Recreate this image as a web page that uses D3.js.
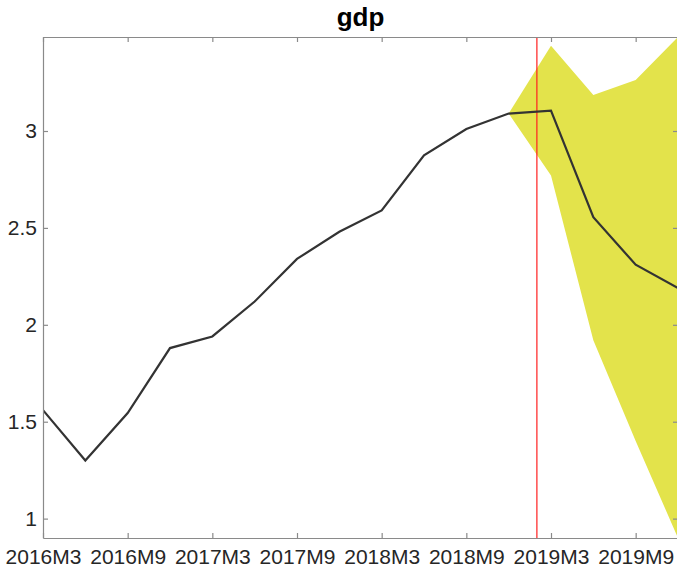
<!DOCTYPE html>
<html><head><meta charset="utf-8">
<script src="https://cdn.jsdelivr.net/npm/d3@7"></script>
<style>
html,body{margin:0;padding:0;background:#fff;overflow:hidden;}
text{font-family:"Liberation Sans",Arial,Helvetica,sans-serif;}
</style></head>
<body><svg id="c" width="677" height="569"></svg>
<script>
// months since 2016M3 for each quarterly observation
const periods = ["2016M3","2016M6","2016M9","2016M12","2017M3","2017M6","2017M9","2017M12","2018M3","2018M6","2018M9","2018M12","2019M3","2019M6","2019M9","2019M12"];
const gdp = [1.56,1.30,1.545,1.88,1.94,2.12,2.34,2.48,2.59,2.875,3.01,3.09,3.105,2.555,2.31,2.19];
const bandPeriods = ["2018M12","2019M3","2019M6","2019M9","2019M12"];
const bandUpper = [3.09,3.44,3.186,3.263,3.485];
const bandLower = [3.09,2.77,1.92,1.40,0.90];
const xTickLabels = ["2016M3","2016M9","2017M3","2017M9","2018M3","2018M9","2019M3","2019M9"];
const yTicks = [1,1.5,2,2.5,3];
const forecastStart = "2019M2";
const title = "gdp";

function toMonth(p){const m=p.match(/(\d{4})M(\d+)/);return (+m[1]-2016)*12+(+m[2]-3);}

const svg = d3.select("#c");
const L=43, R=678, T=37, B=538;
const x = d3.scaleLinear().domain([0,45]).range([L,R]);
const yMin = d3.min([...gdp,...bandLower]), yMax = d3.max([...gdp,...bandUpper]);
const y = d3.scaleLinear().domain([yMin,yMax]).range([B,T]);

svg.append("defs").append("clipPath").attr("id","clip").append("rect")
  .attr("x",L).attr("y",T).attr("width",R-L).attr("height",B-T);
const g = svg.append("g").attr("clip-path","url(#clip)");

const band = bandPeriods.map((p,i)=>({m:toMonth(p),lo:bandLower[i],hi:bandUpper[i]}));
g.append("path").datum(band)
  .attr("d",d3.area().x(d=>x(d.m)).y0(d=>y(d.lo)).y1(d=>y(d.hi)))
  .attr("fill","#e3e34b").attr("stroke","none");

g.append("line").attr("x1",x(toMonth(forecastStart))).attr("x2",x(toMonth(forecastStart)))
  .attr("y1",T).attr("y2",B).attr("stroke","#ff2020").attr("stroke-width",1.2);

const pts = periods.map((p,i)=>({m:toMonth(p),v:gdp[i]}));
g.append("path").datum(pts)
  .attr("d",d3.line().x(d=>x(d.m)).y(d=>y(d.v)))
  .attr("fill","none").attr("stroke","#333333").attr("stroke-width",2.2).attr("stroke-linejoin","miter");

// axes box
const axColor="#8a8a8a";
const tickMonths = xTickLabels.map(toMonth);
const axB = d3.axisBottom(x).tickValues(tickMonths).tickFormat((d,i)=>xTickLabels[i]).tickSizeInner(-5).tickSizeOuter(0).tickPadding(11);
const axT = d3.axisTop(x).tickValues(tickMonths).tickFormat("").tickSizeInner(-5).tickSizeOuter(0);
const axL = d3.axisLeft(y).tickValues(yTicks).tickFormat(d3.format("")).tickSizeInner(-5).tickSizeOuter(0).tickPadding(6);
const axR = d3.axisRight(y).tickValues(yTicks).tickFormat("").tickSizeInner(-5).tickSizeOuter(0);

function style(sel){
  sel.select(".domain").attr("stroke",axColor).attr("stroke-width",1.2);
  sel.selectAll(".tick line").attr("stroke",axColor).attr("stroke-width",1.2);
  sel.selectAll(".tick text").attr("fill","#262626").style("font-size","21px");
}
svg.append("g").attr("transform",`translate(0,${B})`).call(axB).call(style);
svg.append("g").attr("transform",`translate(0,${T})`).call(axT).call(style);
svg.append("g").attr("transform",`translate(${L},0)`).call(axL).call(style);
svg.append("g").attr("transform",`translate(${R},0)`).call(axR).call(style);

svg.append("text").attr("x",(L+R)/2).attr("y",26).attr("text-anchor","middle")
  .style("font-size","26px").style("font-weight","bold").attr("fill","#000").text(title);
</script></body></html>
